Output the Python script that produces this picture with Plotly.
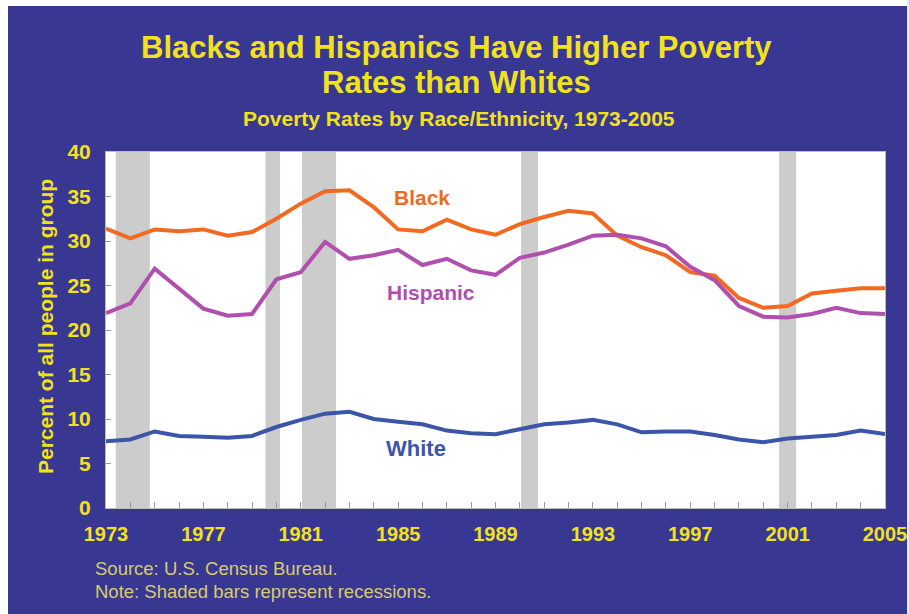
import plotly.graph_objects as go

years = list(range(1973, 2006))
black = [31.4, 30.3, 31.3, 31.1, 31.3, 30.6, 31.0, 32.5, 34.2, 35.6, 35.7, 33.8, 31.3, 31.1,
         32.4, 31.3, 30.7, 31.9, 32.7, 33.4, 33.1, 30.6, 29.3, 28.4, 26.5, 26.1, 23.6, 22.5,
         22.7, 24.1, 24.4, 24.7, 24.7]
hispanic = [21.9, 23.0, 26.9, 24.7, 22.4, 21.6, 21.8, 25.7, 26.5, 29.9, 28.0, 28.4, 29.0, 27.3,
            28.0, 26.7, 26.2, 28.1, 28.7, 29.6, 30.6, 30.7, 30.3, 29.4, 27.1, 25.6, 22.7, 21.5,
            21.4, 21.8, 22.5, 21.9, 21.8]
white = [7.5, 7.7, 8.6, 8.1, 8.0, 7.9, 8.1, 9.1, 9.9, 10.6, 10.8, 10.0, 9.7, 9.4,
         8.7, 8.4, 8.3, 8.8, 9.4, 9.6, 9.9, 9.4, 8.5, 8.6, 8.6, 8.2, 7.7, 7.4,
         7.8, 8.0, 8.2, 8.7, 8.3]
recession_start = [1973.4, 1979.55, 1981.05, 1990.05, 2000.65]
recession_end = [1974.8, 1980.15, 1982.45, 1990.75, 2001.35]
x_tick_labels = [1973, 1977, 1981, 1985, 1989, 1993, 1997, 2001, 2005]
y_tick_labels = [0, 5, 10, 15, 20, 25, 30, 35, 40]

BLUE_BG = "#383893"
YELLOW = "#f2e21c"
ORANGE = "#f26a21"
PURPLE = "#b04fae"
WLINE = "#3b55a8"
NOTE = "#d8ca6e"
FONT = "Liberation Sans, Arial, sans-serif"

W, H = 909, 614
L, R, T, B = 106, 885, 152, 508


def px(x):
    return (x - L) / (R - L)


def py(y):
    return (B - y) / (B - T)


fig = go.Figure()
fig.add_trace(go.Scatter(x=years, y=black, mode="lines", line=dict(color=ORANGE, width=4), name="Black"))
fig.add_trace(go.Scatter(x=years, y=hispanic, mode="lines", line=dict(color=PURPLE, width=4), name="Hispanic"))
fig.add_trace(go.Scatter(x=years, y=white, mode="lines", line=dict(color=WLINE, width=4), name="White"))

shapes = []
for s, e in zip(recession_start, recession_end):
    shapes.append(dict(type="rect", xref="x", yref="y", x0=s, x1=e, y0=0, y1=40,
                       fillcolor="#cccccc", line=dict(width=0), layer="below"))
# white outer border strips
shapes.append(dict(type="rect", xref="paper", yref="paper", x0=px(0), x1=px(8), y0=py(H), y1=py(0),
                   fillcolor="white", line=dict(width=0), layer="above"))
shapes.append(dict(type="rect", xref="paper", yref="paper", x0=px(0), x1=px(W), y0=py(6), y1=py(0),
                   fillcolor="white", line=dict(width=0), layer="above"))
shapes.append(dict(type="rect", xref="paper", yref="paper", x0=px(907), x1=px(W), y0=py(H), y1=py(0),
                   fillcolor="#e8e8f0", line=dict(width=0), layer="above"))

ann = []
ann.append(dict(text="<b>Blacks and Hispanics Have Higher Poverty</b>", x=px(456), y=py(48),
                font=dict(size=31, color=YELLOW, family=FONT)))
ann.append(dict(text="<b>Rates than Whites</b>", x=px(456), y=py(82),
                font=dict(size=31, color=YELLOW, family=FONT)))
ann.append(dict(text="<b>Poverty Rates by Race/Ethnicity, 1973-2005</b>", x=px(459), y=py(118),
                font=dict(size=21, color=YELLOW, family=FONT)))
ann.append(dict(text="<b>Percent of all people in group</b>", x=px(45), y=py(327), textangle=-90,
                font=dict(size=21, color=YELLOW, family=FONT)))
ann.append(dict(text="<b>Black</b>", x=px(422), y=py(197), font=dict(size=21, color=ORANGE, family=FONT)))
ann.append(dict(text="<b>Hispanic</b>", x=px(431), y=py(292), font=dict(size=21, color=PURPLE, family=FONT)))
ann.append(dict(text="<b>White</b>", x=px(416), y=py(448), font=dict(size=22, color=WLINE, family=FONT)))
ann.append(dict(text="Source: U.S. Census Bureau.", x=px(93), y=py(568), xanchor="left",
                font=dict(size=18.5, color=NOTE, family=FONT)))
ann.append(dict(text="Note: Shaded bars represent recessions.", x=px(93), y=py(591), xanchor="left",
                font=dict(size=18.5, color=NOTE, family=FONT)))
for a in ann:
    a.setdefault("xanchor", "center")
    a["yanchor"] = "middle"
    a["xref"] = "paper"
    a["yref"] = "paper"
    a["showarrow"] = False

fig.update_layout(
    width=W, height=H,
    margin=dict(l=L, r=W - R, t=T, b=H - B, pad=0, autoexpand=False),
    paper_bgcolor=BLUE_BG, plot_bgcolor="white",
    showlegend=False,
    shapes=shapes, annotations=ann,
    xaxis=dict(range=[1973, 2005], tickvals=x_tick_labels, ticks="inside", ticklen=6,
               tickcolor="#999999", showgrid=False, zeroline=False, automargin=False,
               showline=True, linecolor="#bbbbbb", linewidth=1, mirror=True,
               tickfont=dict(size=20, color=YELLOW, family=FONT, weight="bold"), ticklabelstandoff=8,
               minor=dict(dtick=1, tick0=1973, ticks="inside", ticklen=6, tickcolor="#999999")),
    yaxis=dict(range=[0, 40], tickvals=y_tick_labels, ticks="inside", ticklen=5,
               tickcolor="#999999", showgrid=False, zeroline=False, automargin=False,
               showline=True, linecolor="#bbbbbb", linewidth=1, mirror=True,
               tickfont=dict(size=21, color=YELLOW, family=FONT, weight="bold"), ticklabelstandoff=10),
)

fig.write_html("out.html")
